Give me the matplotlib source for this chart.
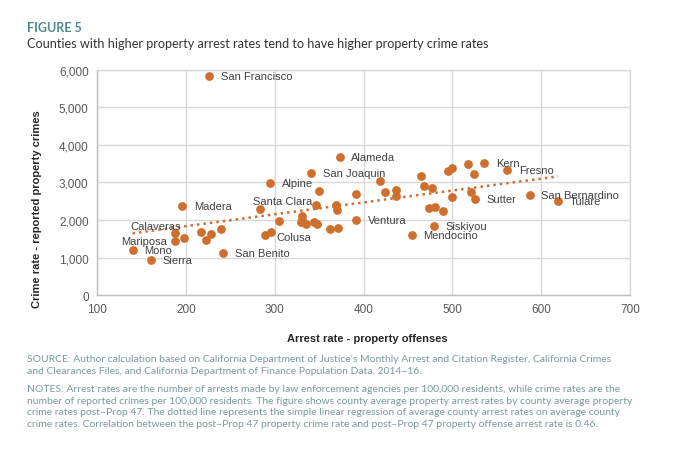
import numpy as np
import matplotlib
matplotlib.use('Agg')
import matplotlib.pyplot as plt

# county data: arrest rate (x), crime rate (y)
arrest_rate = [226, 373, 341, 295, 350, 391, 196, 283, 346, 369, 370,
               188, 188, 198, 217, 223, 228, 240, 140, 161, 242, 289, 296,
               305, 331, 331, 330, 335, 344, 348, 362, 371, 392, 419, 424,
               436, 436, 465, 468, 477, 495, 500, 518, 524, 536, 562, 500,
               521, 525, 474, 480, 490, 587, 619, 479, 454]
crime_rate = [5850, 3675, 3240, 2975, 2772, 2705, 2371, 2282, 2400, 2400, 2274,
              1658, 1453, 1515, 1684, 1471, 1631, 1747, 1212, 927, 1132, 1608, 1670,
              1960, 2110, 2000, 1943, 1890, 1935, 1880, 1765, 1780, 1987, 3042, 2748,
              2805, 2641, 3179, 2911, 2857, 3313, 3393, 3482, 3232, 3518, 3321, 2607,
              2750, 2571, 2313, 2357, 2250, 2679, 2500, 1830, 1598]

# labelled counties (index into the arrays above)
county_labels = {0: 'San Francisco', 1: 'Alameda', 2: 'San Joaquin', 3: 'Alpine',
                 6: 'Madera', 7: 'Santa Clara', 11: 'Calaveras', 12: 'Mariposa',
                 18: 'Mono', 19: 'Sierra', 20: 'San Benito', 22: 'Colusa',
                 32: 'Ventura', 44: 'Kern', 45: 'Fresno', 48: 'Sutter',
                 52: 'San Bernardino', 53: 'Tulare', 54: 'Siskiyou', 55: 'Mendocino'}

y_ticks = [0, 1000, 2000, 3000, 4000, 5000, 6000]
x_ticks = [100, 200, 300, 400, 500, 600, 700]

# label placement in offset points (dx, dy, ha)
label_pos = {'Santa Clara': (-5, 6, 'left'), 'Calaveras': (4, 5, 'right'),
             'Mariposa': (-6, 0, 'right'), 'Colusa': (4, -3, 'left')}

DOT = '#CF6F2E'
TEAL = '#4E8A8C'
NOTE = '#7A9A9C'

fig = plt.figure(figsize=(6.8, 4.6), dpi=100)
ax = fig.add_axes([0.1426, 0.3565, 0.784, 0.4892])

ax.scatter(arrest_rate, crime_rate, s=40, color=DOT, zorder=3, linewidths=0)

# simple linear regression trendline
xs = np.array(arrest_rate, dtype=float)
ys = np.array(crime_rate, dtype=float)
slope, intercept = np.polyfit(xs, ys, 1)
xl = np.array([xs.min(), xs.max()])
ax.plot(xl, slope * xl + intercept, color=DOT, lw=1.8, ls=(0, (1, 1.6)), zorder=2)

for i, name in county_labels.items():
    dx, dy, ha = label_pos.get(name, (8.5, 0, 'left'))
    ax.annotate(name, (arrest_rate[i], crime_rate[i]), xytext=(dx, dy),
                textcoords='offset points', ha=ha, va='center',
                fontsize=8, color='#404040', family='Liberation Sans', zorder=4)

ax.set_xlim(100, 700)
ax.set_ylim(0, 6000)
ax.set_xticks(x_ticks)
ax.set_yticks(y_ticks)
ax.set_yticklabels(['{:,}'.format(v) for v in y_ticks])
ax.tick_params(length=0, labelsize=8.5, labelcolor='#595959', pad=6)
for lab in ax.get_xticklabels() + ax.get_yticklabels():
    lab.set_family('Liberation Sans')
ax.grid(True, color='#D9D9D9', lw=1)
ax.set_axisbelow(True)
for side, sp in ax.spines.items():
    sp.set_color('#D9D9D9')
    sp.set_linewidth(1)
ax.spines['left'].set_color('#BFBFBF')
ax.spines['bottom'].set_color('#BFBFBF')

fig.text(0.54, 0.263, 'Arrest rate - property offenses', ha='center', va='center',
         fontsize=8, fontweight='bold', color='#262626', family='Liberation Sans')
fig.text(0.054, 0.545, 'Crime rate - reported property crimes', ha='center', va='center',
         rotation=90, fontsize=8, fontweight='bold', color='#262626', family='Liberation Sans')

fig.text(0.04, 1 - 28.5 / 460, 'FIGURE 5', ha='left', va='center', fontsize=9,
         fontweight='bold', color=TEAL, family='Lato')
fig.text(0.04, 1 - 44 / 460,
         'Counties with higher property arrest rates tend to have higher property crime rates',
         ha='left', va='center', fontsize=9.1, color='#333333', family='Lato')

source = ('SOURCE: Author calculation based on California Department of Justice\u2019s Monthly Arrest and Citation Register, California Crimes\n'
          'and Clearances Files, and California Department of Finance Population Data, 2014\u201316.')
notes = ('NOTES: Arrest rates are the number of arrests made by law enforcement agencies per 100,000 residents, while crime rates are the\n'
         'number of reported crimes per 100,000 residents. The figure shows county average property arrest rates by county average property\n'
         'crime rates post\u2013Prop 47. The dotted line represents the simple linear regression of average county arrest rates on average county\n'
         'crime rates. Correlation between the post\u2013Prop 47 property crime rate and post\u2013Prop 47 property offense arrest rate is 0.46.')
fig.text(0.04, 1 - 355 / 460, source, ha='left', va='top', fontsize=7.45,
         color=NOTE, family='Lato', linespacing=1.38)
fig.text(0.04, 1 - 385 / 460, notes, ha='left', va='top', fontsize=7.45,
         color=NOTE, family='Lato', linespacing=1.38)

fig.savefig('out.png', dpi=100, facecolor='white')
